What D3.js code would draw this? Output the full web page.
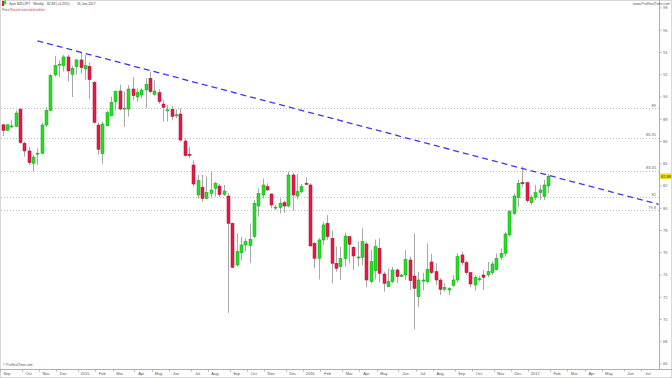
<!DOCTYPE html>
<html>
<head>
<meta charset="utf-8">
<script src="https://cdn.jsdelivr.net/npm/d3@7"></script>
<style>
body { margin: 0; background: #fff; }
svg { display: block; font-family: "Liberation Sans", Arial, sans-serif; }
</style>
</head>
<body>
<script>
// Spot NZD/JPY, weekly candles from the week of 25 Aug 2014 to 23 Jan 2017
// values

openP = [87.5, 87.0, 87.3, 87.36, 88.9, 85.84, 85.15, 84.04, 84.9, 84.94,
	87.48, 88.8, 91.98, 92.9, 92.82, 93.6, 92.04, 92.73, 93.33, 92.52,
	92.76, 91.32, 87.48, 84.91, 87.42, 88.32, 89.58, 90.54, 88.95, 88.92,
	90.72, 90.0, 90.18, 90.63, 91.68, 90.24, 90.39, 89.37, 88.75, 88.9,
	88.3, 88.47, 86.04, 84.85, 83.89, 81.19, 81.88, 80.89, 81.34, 81.79,
	82.0, 81.25, 81.1, 78.64, 74.9, 76.0, 76.7, 76.64, 77.45, 80.2,
	81.19, 81.94, 81.28, 80.05, 80.08, 80.5, 80.2, 82.99, 81.1, 81.49,
	82.24, 82.09, 76.85, 75.5, 77.15, 78.64, 77.3, 75.05, 74.75, 75.47,
	77.45, 76.49, 75.55, 75.59, 76.79, 73.4, 74.39, 76.4, 74.09, 72.95,
	73.4, 74.45, 73.85, 74.0, 75.35, 73.91, 72.05, 73.45, 73.4, 75.17,
	74.3, 73.55, 72.71, 72.65, 73.07, 73.55, 75.8, 75.11, 74.21, 73.1,
	73.6, 74.0, 74.0, 74.21, 74.51, 75.59, 75.95, 77.6, 79.54, 80.98,
	82.3, 82.3, 80.5, 80.98, 81.4, 81.04, 82.0];
highP = [87.6, 87.55, 87.9, 88.8, 89.0, 86.0, 85.5, 84.8, 85.4, 87.7,
	89.1, 92.1, 93.7, 93.3, 93.78, 93.8, 92.8, 93.4, 94.07, 93.78,
	93.1, 91.44, 87.7, 87.8, 88.74, 90.03, 90.6, 91.1, 90.5, 91.08,
	91.8, 90.78, 90.78, 91.7, 92.28, 91.5, 90.7, 89.73, 89.3, 89.2,
	88.9, 88.98, 86.28, 85.53, 84.3, 82.99, 82.99, 82.84, 83.29, 82.39,
	82.18, 82.09, 81.34, 78.7, 77.74, 77.44, 77.3, 78.64, 80.74, 81.79,
	82.69, 82.24, 81.34, 80.29, 80.89, 80.68, 83.29, 83.2, 83.08, 82.18,
	82.78, 82.24, 77.0, 77.3, 78.8, 79.39, 77.99, 76.55, 76.55, 77.8,
	77.5, 76.61, 77.0, 78.2, 77.0, 76.25, 77.2, 77.3, 74.3, 74.6,
	74.75, 74.6, 74.1, 76.25, 75.65, 77.75, 74.3, 74.2, 76.85, 75.89,
	75.05, 73.7, 73.25, 72.9, 73.99, 75.95, 76.1, 75.29, 74.3, 74.0,
	73.9, 74.45, 75.2, 75.2, 75.95, 76.4, 77.9, 79.84, 81.34, 82.54,
	83.74, 82.39, 81.19, 82.1, 82.09, 82.54, 83.08];
lowP = [86.5, 86.97, 87.25, 87.3, 85.8, 84.64, 83.9, 83.3, 83.9, 84.85,
	87.3, 88.7, 91.83, 91.8, 92.3, 91.4, 90.0, 92.0, 92.13, 91.53,
	89.8, 87.6, 84.8, 84.0, 87.33, 88.23, 88.8, 88.8, 87.3, 88.23,
	89.7, 89.58, 89.88, 89.0, 90.33, 90.1, 89.4, 87.78, 87.8, 87.9,
	88.1, 85.98, 84.64, 84.49, 81.94, 80.89, 80.59, 80.8, 80.89, 81.04,
	81.04, 81.1, 70.6, 74.6, 74.75, 75.35, 76.1, 75.05, 77.3, 79.24,
	80.89, 81.58, 79.99, 79.84, 79.54, 79.6, 80.08, 79.78, 80.8, 81.34,
	82.1, 76.55, 74.6, 73.6, 76.7, 77.15, 73.25, 74.3, 73.55, 74.75,
	75.05, 74.45, 74.75, 74.9, 72.89, 73.25, 73.61, 73.31, 72.5, 72.89,
	73.25, 73.25, 73.8, 73.55, 72.65, 69.12, 71.09, 72.6, 73.25, 74.09,
	73.1, 72.2, 72.5, 72.2, 72.95, 73.31, 74.9, 73.99, 72.89, 72.59,
	73.4, 72.65, 73.79, 73.99, 74.39, 75.35, 75.65, 77.45, 79.39, 80.08,
	81.9, 80.5, 80.29, 80.74, 80.74, 80.74, 81.34];
closeP = [87.0, 87.5, 87.4, 88.56, 85.9, 85.15, 84.1, 84.6, 84.95, 87.48,
	88.8, 91.92, 92.82, 92.95, 93.6, 92.34, 92.58, 93.33, 92.64, 92.82,
	91.56, 87.72, 85.3, 87.57, 88.59, 89.52, 90.48, 88.92, 89.0, 90.72,
	90.12, 90.42, 90.63, 91.14, 90.48, 90.54, 89.58, 89.07, 88.85, 88.25,
	88.4, 86.13, 84.73, 84.73, 82.18, 82.48, 80.89, 81.43, 81.64, 82.24,
	81.22, 81.55, 78.64, 74.69, 76.1, 76.7, 77.0, 77.2, 80.44, 81.34,
	82.09, 81.64, 80.29, 80.1, 80.44, 80.2, 82.99, 81.19, 81.49, 81.94,
	82.15, 76.61, 75.5, 77.15, 78.5, 77.45, 75.05, 74.6, 75.47, 77.5,
	76.76, 75.71, 75.62, 77.0, 73.55, 75.2, 76.55, 74.15, 73.25, 73.4,
	74.45, 73.85, 74.0, 75.41, 73.49, 72.8, 73.55, 73.55, 74.51, 74.21,
	73.55, 72.71, 72.89, 72.77, 73.55, 75.65, 75.11, 74.21, 73.19, 73.79,
	73.66, 73.79, 74.3, 74.99, 75.5, 75.95, 77.69, 79.69, 81.1, 82.24,
	82.2, 80.68, 80.98, 81.4, 81.64, 82.09, 82.88];

firstWeek = new Date(2014, 7, 25);
monthLabels = ['Sep', 'Oct', 'Nov', 'Dec', '2015', 'Feb', 'Mar', 'Apr', 'May', 'Jun', 'Jul', 'Aug',
	'Sep', 'Oct', 'Nov', 'Dec', '2016', 'Feb', 'Mar', 'Apr', 'May', 'Jun', 'Jul', 'Aug',
	'Sep', 'Oct', 'Nov', 'Dec', '2017', 'Feb', 'Mar', 'Apr', 'May', 'Jun', 'Jul'];
yTicks = [66, 68, 70, 72, 74, 76, 78, 80, 82, 84, 86, 88, 90, 92, 94, 96, 98];
levels = [89, 86.35, 83.35, 81, 79.8];
levelLabels = ['89', '86.35', '83.35', '81', '79.8'];
// trend line: [week index, price]
trend = [[8, 95.05], [151.5, 80.35]];
lastPrice = 82.88;

width = 672, height = 378;
svg = d3.select('body').append('svg')
	.attr('width', width)
	.attr('height', height);

xScale = d3.scaleLinear()
	.domain([0, 150])
	.range([2.7, 652.2]);
yScale = d3.scaleLinear()
	.domain([66, 98])
	.range([364, 8]);
plotRight = 659.5, plotBottom = 369.5;

// frame
svg.append('rect')
	.attr('x', 0.5).attr('y', 0.5)
	.attr('width', width - 1).attr('height', height - 1)
	.attr('fill', 'none').attr('stroke', '#d8d8d8');
svg.append('line')
	.attr('x1', plotRight).attr('x2', plotRight)
	.attr('y1', 0).attr('y2', plotBottom)
	.attr('stroke', '#b0b0b0');
svg.append('line')
	.attr('x1', 0).attr('x2', width)
	.attr('y1', plotBottom).attr('y2', plotBottom)
	.attr('stroke', '#b0b0b0');

// horizontal support/resistance levels
svg.selectAll('line.level')
	.data(levels)
	.enter().append('line')
	.attr('class', 'level')
	.attr('x1', 1).attr('x2', plotRight)
	.attr('y1', d => Math.round(yScale(d)) + 0.5)
	.attr('y2', d => Math.round(yScale(d)) + 0.5)
	.attr('stroke', '#bbbbbb')
	.attr('stroke-dasharray', '1,2');
svg.selectAll('text.level')
	.data(levels)
	.enter().append('text')
	.attr('class', 'level')
	.attr('x', 656)
	.attr('y', d => yScale(d) - 1.5)
	.attr('text-anchor', 'end')
	.attr('font-size', 4)
	.attr('fill', '#666')
	.text((d, i) => levelLabels[i]);

// candles
idx = d3.range(openP.length);
svg.selectAll('line.wick')
	.data(idx)
	.enter().append('line')
	.attr('class', 'wick')
	.attr('x1', i => Math.round(xScale(i)) + 0.5)
	.attr('x2', i => Math.round(xScale(i)) + 0.5)
	.attr('y1', i => yScale(highP[i]))
	.attr('y2', i => yScale(lowP[i]))
	.attr('stroke', '#a8a8a8')
	.attr('stroke-width', 1);
svg.selectAll('rect.body')
	.data(idx)
	.enter().append('rect')
	.attr('class', 'body')
	.attr('x', i => Math.round(xScale(i)) - 1)
	.attr('y', i => yScale(Math.max(openP[i], closeP[i])))
	.attr('width', 3)
	.attr('height', i => Math.max(1, Math.abs(yScale(openP[i]) - yScale(closeP[i]))))
	.attr('fill', i => closeP[i] >= openP[i] ? '#22e022' : '#e8184a')
	.attr('stroke', i => closeP[i] >= openP[i] ? '#18a018' : '#a8102e')
	.attr('stroke-width', 0.5);

// downward trend line
svg.append('line')
	.attr('x1', xScale(trend[0][0])).attr('y1', yScale(trend[0][1]))
	.attr('x2', xScale(trend[1][0])).attr('y2', yScale(trend[1][1]))
	.attr('stroke', '#3a3af0')
	.attr('stroke-width', 1.3)
	.attr('stroke-dasharray', '6,4');

// right price axis
svg.selectAll('line.ytick')
	.data(yTicks)
	.enter().append('line')
	.attr('class', 'ytick')
	.attr('x1', plotRight).attr('x2', plotRight + 2)
	.attr('y1', d => yScale(d)).attr('y2', d => yScale(d))
	.attr('stroke', '#b0b0b0');
svg.selectAll('text.ytick')
	.data(yTicks)
	.enter().append('text')
	.attr('class', 'ytick')
	.attr('x', 663)
	.attr('y', d => yScale(d) + 1.4)
	.attr('font-size', 4)
	.attr('fill', '#666')
	.text(d => d);
svg.append('rect')
	.attr('x', 660).attr('y', yScale(lastPrice) - 2.8)
	.attr('width', 12).attr('height', 5.6)
	.attr('fill', '#f3df2a');
svg.append('text')
	.attr('x', 661).attr('y', yScale(lastPrice) + 1.4)
	.attr('font-size', 4)
	.attr('fill', '#333')
	.text(lastPrice.toFixed(2));

// time axis: label at the first weekly bar of each month
months = d3.timeMonth.range(new Date(2014, 8, 1), new Date(2017, 7, 1));
monthIdx = months.map(m => d3.timeMonday.count(firstWeek, d3.timeMonday.ceil(m)));
svg.selectAll('line.xtick')
	.data(monthIdx)
	.enter().append('line')
	.attr('class', 'xtick')
	.attr('x1', d => Math.round(xScale(d) - 7) + 0.5)
	.attr('x2', d => Math.round(xScale(d) - 7) + 0.5)
	.attr('y1', plotBottom).attr('y2', plotBottom + 2)
	.attr('stroke', '#b0b0b0');
svg.selectAll('text.xtick')
	.data(monthIdx)
	.enter().append('text')
	.attr('class', 'xtick')
	.attr('x', d => xScale(d))
	.attr('y', 375)
	.attr('text-anchor', 'middle')
	.attr('font-size', 4)
	.attr('fill', '#555')
	.text((d, i) => monthLabels[i]);

// header
svg.append('rect').attr('x', 2).attr('y', 1).attr('width', 2).attr('height', 5).attr('fill', '#e8184a');
svg.append('rect').attr('x', 4).attr('y', 0.5).attr('width', 2).attr('height', 4).attr('fill', '#22e022');
header = [['Spot NZD/JPY', 9], ['Weekly', 33], ['82.88 (+0.25%)', 47], ['26-Jan-2017', 77]];
svg.selectAll('text.head')
	.data(header)
	.enter().append('text')
	.attr('class', 'head')
	.attr('x', d => d[1]).attr('y', 5)
	.attr('font-size', 3.3)
	.attr('fill', '#444')
	.text(d => d[0]);
svg.append('text')
	.attr('x', 2).attr('y', 10.5)
	.attr('font-size', 3.3).attr('fill', '#444')
	.text('Price');
svg.append('rect')
	.attr('x', 9).attr('y', 7.5).attr('width', 35).attr('height', 4)
	.attr('fill', '#f4f4f4');
svg.append('text')
	.attr('x', 10).attr('y', 10.5)
	.attr('font-size', 3.3).attr('fill', '#e05050')
	.text('Recent executed orders');
svg.append('text')
	.attr('x', 670).attr('y', 5)
	.attr('text-anchor', 'end')
	.attr('font-size', 3.6).attr('fill', '#555')
	.text('www.ProRealTime.com');
svg.append('text')
	.attr('x', 3).attr('y', 366)
	.attr('font-size', 3.3).attr('fill', '#555')
	.text('© ProRealTime.com');
</script>
</body>
</html>
